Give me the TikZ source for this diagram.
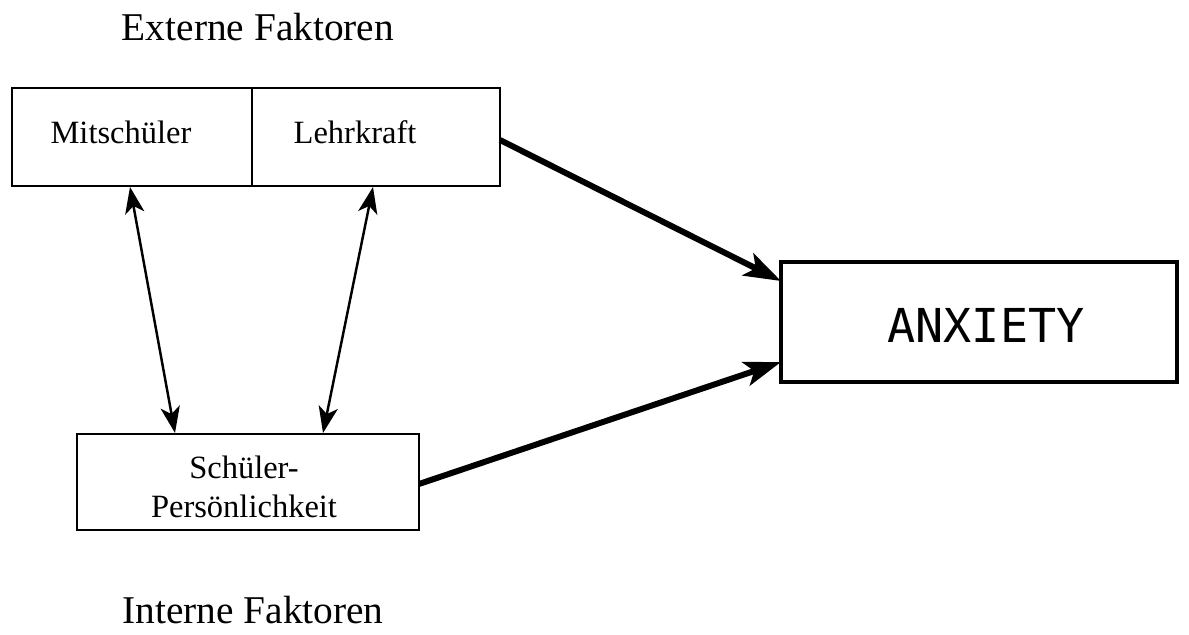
\documentclass[tikz,border=0pt]{standalone}
\usepackage{fontspec}
\setmainfont{Liberation Serif}
\newfontfamily\anxfont{DejaVu Sans Mono}
\usetikzlibrary{arrows.meta}
\begin{document}
\begin{tikzpicture}[x=0.02cm,y=-0.02cm,
  thinbox/.style={draw,line width=1.1pt,inner sep=0pt,outer sep=0pt},
  bigbox/.style={draw,line width=2.3pt,inner sep=0pt,outer sep=0pt},
  lbl/.style={inner sep=0pt,font=\fontsize{18.5}{22}\selectfont,align=center},
  head/.style={inner sep=0pt,font=\fontsize{22.4}{26}\selectfont},
  both/.style={line width=1.4pt,{Stealth[length=15pt,width=11pt,inset=4pt]}-{Stealth[length=15pt,width=11pt,inset=4pt]}},
  heavy/.style={line width=3.4pt,-{Stealth[length=21pt,width=14pt,inset=5pt]}}]
  \useasboundingbox (0,0) rectangle (1189,635);

  % headings
  \node[head] (ext) at (258,27) {Externe Faktoren};
  \node[head] (int) at (253,610) {Interne Faktoren};

  % external factors: two adjoining boxes
  \node[thinbox,minimum width=240*0.02cm,minimum height=98*0.02cm] (mit) at (132,137) {};
  \node[thinbox,minimum width=248*0.02cm,minimum height=98*0.02cm] (lehr) at (376,137) {};
  \node[lbl] (mitt) at (121,132) {Mitschüler};
  \node[lbl] (lehrt) at (355,132) {Lehrkraft};

  % internal factor
  \node[thinbox,minimum width=342*0.02cm,minimum height=96*0.02cm] (psn) at (248,482) {};
  \node[lbl] (psnt) at (244,487) {Schüler-\\Persönlichkeit};

  % outcome
  \node[bigbox,minimum width=396*0.02cm,minimum height=120*0.02cm] (anx) at (979,322) {};
  \node[inner sep=0pt,font=\anxfont\fontsize{26.6}{30}\selectfont] (anxt) at (986,325) {ANXIETY};

  % connector end points on the box borders
  \coordinate (m1) at (130,187);
  \coordinate (p1) at (175,433);
  \coordinate (l1) at (373,187);
  \coordinate (p2) at (323,433);
  \coordinate (l2) at (500,140);
  \coordinate (a1) at (781,281);
  \coordinate (p3) at (419,484);
  \coordinate (a2) at (781,362);

  % mutual influences
  \draw[both] (m1) -- (p1);
  \draw[both] (l1) -- (p2);

  % effects on anxiety
  \draw[heavy] (l2) -- (a1);
  \draw[heavy] (p3) -- (a2);
\end{tikzpicture}
\end{document}
